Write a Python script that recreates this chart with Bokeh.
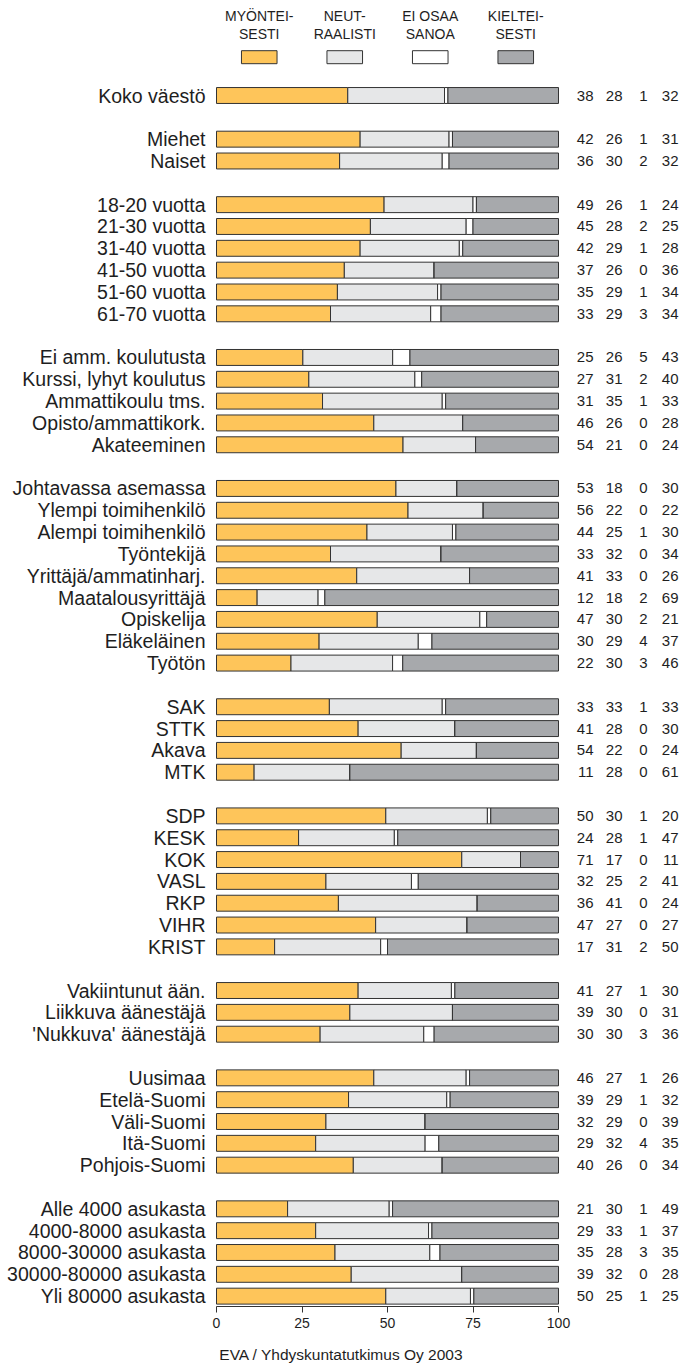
import numpy as np
from bokeh.plotting import figure
from bokeh.models import ColumnDataSource, Range1d, FixedTicker
from bokeh.core.properties import value
from bokeh.embed import file_html
from bokeh.resources import INLINE

# ---------------- data ----------------
categories = [
    "Koko väestö",
    "Miehet", "Naiset",
    "18-20 vuotta", "21-30 vuotta", "31-40 vuotta", "41-50 vuotta", "51-60 vuotta", "61-70 vuotta",
    "Ei amm. koulutusta", "Kurssi, lyhyt koulutus", "Ammattikoulu tms.", "Opisto/ammattikork.", "Akateeminen",
    "Johtavassa asemassa", "Ylempi toimihenkilö", "Alempi toimihenkilö", "Työntekijä",
    "Yrittäjä/ammatinharj.", "Maatalousyrittäjä", "Opiskelija", "Eläkeläinen", "Työtön",
    "SAK", "STTK", "Akava", "MTK",
    "SDP", "KESK", "KOK", "VASL", "RKP", "VIHR", "KRIST",
    "Vakiintunut ään.", "Liikkuva äänestäjä", "'Nukkuva' äänestäjä",
    "Uusimaa", "Etelä-Suomi", "Väli-Suomi", "Itä-Suomi", "Pohjois-Suomi",
    "Alle 4000 asukasta", "4000-8000 asukasta", "8000-30000 asukasta", "30000-80000 asukasta", "Yli 80000 asukasta",
]
group_sizes = [1, 2, 6, 5, 9, 4, 7, 3, 5, 5]

myonteisesti = [38, 42, 36, 49, 45, 42, 37, 35, 33, 25, 27, 31, 46, 54, 53, 56, 44, 33, 41, 12, 47, 30, 22,
                33, 41, 54, 11, 50, 24, 71, 32, 36, 47, 17, 41, 39, 30, 46, 39, 32, 29, 40, 21, 29, 35, 39, 50]
neutraalisti = [28, 26, 30, 26, 28, 29, 26, 29, 29, 26, 31, 35, 26, 21, 18, 22, 25, 32, 33, 18, 30, 29, 30,
                33, 28, 22, 28, 30, 28, 17, 25, 41, 27, 31, 27, 30, 30, 27, 29, 29, 32, 26, 30, 33, 28, 32, 25]
ei_osaa_sanoa = [1, 1, 2, 1, 2, 1, 0, 1, 3, 5, 2, 1, 0, 0, 0, 0, 1, 0, 0, 2, 2, 4, 3,
                 1, 0, 0, 0, 1, 1, 0, 2, 0, 0, 2, 1, 0, 3, 1, 1, 0, 4, 0, 1, 1, 3, 0, 1]
kielteisesti = [32, 31, 32, 24, 25, 28, 36, 34, 34, 43, 40, 33, 28, 24, 30, 22, 30, 34, 26, 69, 21, 37, 46,
                33, 30, 24, 61, 20, 47, 11, 41, 24, 27, 50, 30, 31, 36, 26, 32, 39, 35, 34, 49, 37, 35, 28, 25]

series_labels = [["MYÖNTEI-", "SESTI"], ["NEUT-", "RAALISTI"], ["EI OSAA", "SANOA"], ["KIELTEI-", "SESTI"]]
series_colors = ["#FEC55A", "#E6E7E8", "#FFFFFF", "#A7A9AC"]
tick_values = [0, 25, 50, 75, 100]
footer_text = "EVA / Yhdyskuntatutkimus Oy 2003"

# ---------------- layout ----------------
W, H = 682, 1368
FRAME_H = 1306
PX_PER_UNIT = 3.42
X0_PX = 216.0            # canvas px of value 0
ROW_PX = 21.83
FIRST_ROW_PX = 95.0      # canvas px of first row centre

x_start = -X0_PX / PX_PER_UNIT
x_end = x_start + W / PX_PER_UNIT
y_top = -FIRST_ROW_PX / ROW_PX
y_bottom = (FRAME_H - FIRST_ROW_PX) / ROW_PX

def px_to_x(px):          # canvas px -> data x
    return (px - X0_PX) / PX_PER_UNIT

def py_to_y(py):          # canvas px -> row units
    return (py - FIRST_ROW_PX) / ROW_PX

# slot positions (one blank slot between groups)
slots = []
s = 0
for g, n in enumerate(group_sizes):
    for _ in range(n):
        slots.append(s)
        s += 1
    s += 1

vals = np.array([myonteisesti, neutraalisti, ei_osaa_sanoa, kielteisesti], dtype=float)
totals = vals.sum(axis=0)
shares = vals / totals * 100.0
cum = np.cumsum(shares, axis=0)
lefts = np.vstack([np.zeros(len(categories)), cum[:-1]])

p = figure(width=W, height=H, output_backend="svg", toolbar_location=None,
           x_range=Range1d(x_start, x_end), y_range=Range1d(y_bottom, y_top),
           min_border_left=0, min_border_right=0, min_border_top=0, min_border_bottom=H - FRAME_H)
p.outline_line_color = None
p.xgrid.visible = False
p.ygrid.visible = False
p.yaxis.visible = False
p.background_fill_color = "white"
p.border_fill_color = "white"

FONT = value("Liberation Sans")
TXT = "#1E1E1E"
EDGE = "#333333"

for k in range(4):
    src = ColumnDataSource(dict(y=slots, left=lefts[k], right=cum[k]))
    p.hbar(y="y", left="left", right="right", height=0.73, source=src,
           fill_color=series_colors[k], line_color=EDGE, line_width=1)

# category labels
p.text(x=[px_to_x(205)] * len(categories), y=slots, text=categories,
       text_align="right", text_baseline="middle", text_font=FONT,
       text_font_size="19.5px", text_color=TXT)

# value columns
col_px = [593, 622, 647, 678]
for k, arr in enumerate([myonteisesti, neutraalisti, ei_osaa_sanoa, kielteisesti]):
    p.text(x=[px_to_x(col_px[k])] * len(arr), y=slots, text=[str(v) for v in arr],
           text_align="right", text_baseline="middle", text_font=FONT,
           text_font_size="15px", text_color=TXT)

# legend
leg_x = [12.5, 37.5, 62.5, 87.5]
p.rect(x=leg_x, y=[py_to_y(56.7)] * 4, width=10.4, height=13.0 / ROW_PX,
       fill_color=series_colors, line_color=EDGE, line_width=1)
p.text(x=leg_x, y=[py_to_y(15.5)] * 4, text=[l[0] for l in series_labels],
       text_align="center", text_baseline="middle", text_font=FONT,
       text_font_size="14px", text_color=TXT)
p.text(x=leg_x, y=[py_to_y(33.5)] * 4, text=[l[1] for l in series_labels],
       text_align="center", text_baseline="middle", text_font=FONT,
       text_font_size="14px", text_color=TXT)

# x axis (footer as the axis label)
ax = p.xaxis[0]
ax.ticker = FixedTicker(ticks=tick_values)
ax.bounds = (0, 100)
ax.major_tick_out = 6
ax.major_tick_in = 0
ax.minor_tick_line_color = None
ax.axis_line_color = EDGE
ax.major_tick_line_color = EDGE
ax.major_label_text_font = "Liberation Sans"
ax.major_label_text_font_size = "14px"
ax.major_label_text_color = TXT
ax.major_label_standoff = 5
ax.axis_label = footer_text
ax.axis_label_text_font = "Liberation Sans"
ax.axis_label_text_font_size = "15.5px"
ax.axis_label_text_font_style = "normal"
ax.axis_label_text_color = TXT
ax.axis_label_standoff = 15

open("out.html", "w").write(file_html(p, INLINE))
